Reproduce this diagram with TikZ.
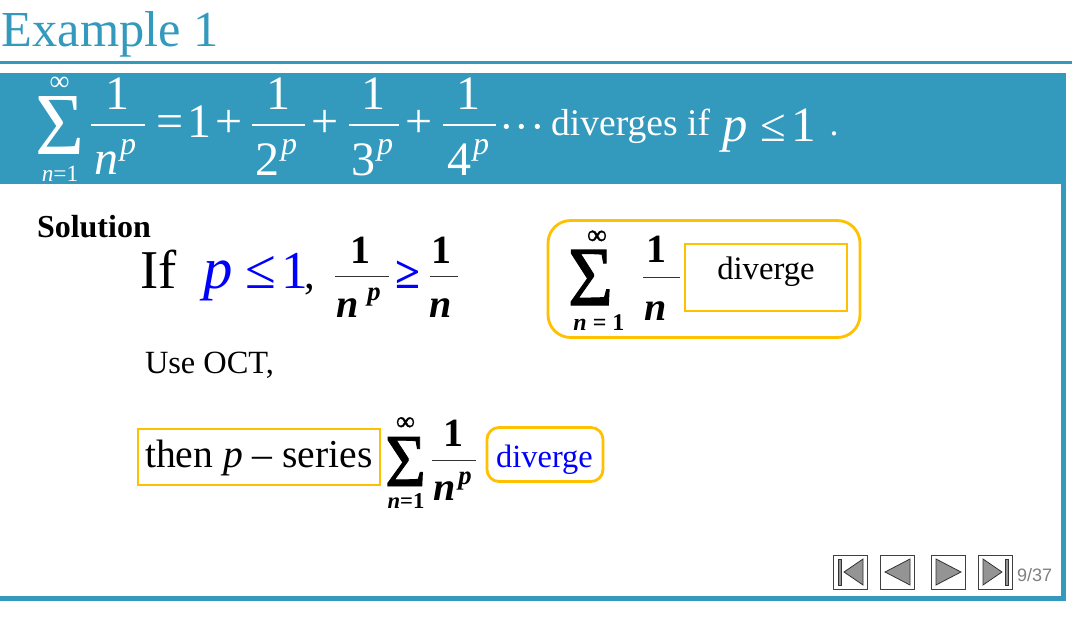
\documentclass[tikz,border=0pt]{standalone}
\usepackage{fontspec}
\usepackage{graphicx}
\setmainfont{Liberation Serif}
\newfontfamily\navfont{Liberation Sans}
\newfontfamily\heavyfont[FakeBold=1.2]{Liberation Serif}
\definecolor{teal1}{HTML}{3399BD}
\definecolor{gold1}{HTML}{FFC000}
\newcommand{\sigmaglyph}[2]{\resizebox{#1}{#2}{Σ}}
\newcommand{\sigmabold}[2]{\resizebox{#1}{#2}{\heavyfont Σ}}
\tikzset{
 x=0.75pt,y=-0.75pt,
 tx/.style={inner sep=0pt,outer sep=0pt,anchor=base},
 fs/.style={font=\fontsize{#1}{#1}\selectfont},
 wh/.style={text=white},
 sg/.style={inner sep=0pt,outer sep=0pt,anchor=center},
 goldbox/.style={draw=gold1,line width=2.1pt},
 navbtn/.style={draw=black!75,line width=0.75pt,fill=white,minimum width=25.5pt,minimum height=25.5pt,inner sep=0pt},
 navtri/.style={draw=black!80,line width=0.6pt,fill=black!42},
 fracw/.style={white,line width=0.8pt},
 fracb/.style={black!80,line width=0.6pt},
}
\begin{document}
\begin{tikzpicture}
\useasboundingbox (0,0) rectangle (1079,621);
\fill[white] (0,0) rectangle (1079,621);
% frame
\fill[teal1] (0,60.5) rectangle (1072,64);
\fill[teal1] (0,72.7) rectangle (1066,183.5);
\fill[teal1] (1061,183) rectangle (1066,601);
\fill[teal1] (0,596) rectangle (1066,601);
\node[tx,anchor=base west,text=teal1,fs=37.8] (title) at (2,46) {Example 1};
% band formula
\node[sg,wh] (s0) at (59.5,125) {\sigmaglyph{36.75pt}{43.5pt}};
\node[tx,wh,fs=21] (inf0) at (59.5,90) {∞};
\node[tx,wh,fs=17.5] (low0) at (60,181) {\textit{n}=1};
\node[tx,wh,fs=36] (a1) at (117,109) {1};
\coordinate (b1l) at (91,125); \coordinate (b1r) at (145,125);
\draw[fracw] (b1l) -- (b1r);
\node[tx,wh,fs=36] (a2) at (106,174) {\textit{n}};
\node[tx,wh,fs=24] (a3) at (128,154) {\textit{p}};
\node[tx,wh,fs=36] (e1) at (170,137) {=};
\node[tx,wh,fs=36] (e2) at (199,137) {1};
\node[tx,wh,fs=36] (e3) at (229,137) {+};
\node[tx,wh,fs=36] (c1) at (278,109) {1};
\coordinate (b2l) at (252,125); \coordinate (b2r) at (305,125);
\draw[fracw] (b2l) -- (b2r);
\node[tx,wh,fs=36] (c2) at (267,175) {2};
\node[tx,wh,fs=24] (c3) at (289,154) {\textit{p}};
\node[tx,wh,fs=36] (e4) at (325,137) {+};
\node[tx,wh,fs=36] (d1) at (373,109) {1};
\coordinate (b3l) at (349,125); \coordinate (b3r) at (399,125);
\draw[fracw] (b3l) -- (b3r);
\node[tx,wh,fs=36] (d2) at (363,175) {3};
\node[tx,wh,fs=24] (d3) at (385,154) {\textit{p}};
\node[tx,wh,fs=36] (e5) at (419,137) {+};
\node[tx,wh,fs=36] (f1) at (468,109) {1};
\coordinate (b4l) at (443,125); \coordinate (b4r) at (496,125);
\draw[fracw] (b4l) -- (b4r);
\node[tx,wh,fs=36] (f2) at (459,175) {4};
\node[tx,wh,fs=24] (f3) at (481,154) {\textit{p}};
\node[tx,wh,fs=33] (dots) at (522,141) {·\kern0.75pt·\kern0.75pt·};
\node[tx,wh,anchor=base west,fs=28.2] (dv) at (551,135) {diverges if};
\node[tx,wh,fs=38] (g1) at (735,141) {\textit{p}};
\node[tx,wh,fs=35] (g2) at (773,141) {≤};
\node[tx,wh,fs=37] (g3) at (804,141) {1};
\node[tx,wh,fs=27] (g4) at (834,135) {.};
% solution
\node[tx,anchor=base west,fs=24] (sol) at (37,237) {\textbf{Solution}};
\node[tx,anchor=base west,fs=41] (if) at (140,288) {If};
\node[tx,anchor=base west,text=blue,fs=44] (pc) at (203,288) {\textit{p}};
\node[tx,text=blue,fs=42] (pc2) at (261,288) {≤};
\node[tx,text=blue,fs=40] (pc3) at (295,288) {1};
\node[tx,fs=32] (comma) at (310,288) {,};
\node[tx,fs=30] (h1) at (360,263) {\textbf{1}};
\coordinate (h1l) at (335,276); \coordinate (h1r) at (389,276);
\draw[fracb] (h1l) -- (h1r);
\node[tx,fs=30] (h2) at (348,317) {\textbf{\textit{n}}};
\node[tx,fs=20] (h3) at (374,300) {\textbf{\textit{p}}};
\node[tx,text=blue,fs=34] (ge) at (408,288) {\textbf{≥}};
\node[tx,fs=30] (h4) at (441,263) {\textbf{1}};
\coordinate (h4l) at (430,276); \coordinate (h4r) at (458,276);
\draw[fracb] (h4l) -- (h4r);
\node[tx,fs=30] (h5) at (441,317) {\textbf{\textit{n}}};
% right rounded box
\node[goldbox,rounded corners=17pt,minimum width=234pt,minimum height=87.75pt,inner sep=0pt] (bigbox) at (704,279) {};
\node[sg] (s1) at (590.5,277.5) {\sigmabold{33.75pt}{41.25pt}};
\node[tx,font=\fontsize{21}{21}\selectfont\heavyfont] (inf1) at (597,244) {∞};
\node[tx,fs=18] (low1) at (599,330) {\textbf{\textit{n} = 1}};
\node[tx,fs=30] (i1) at (656,262) {\textbf{1}};
\coordinate (i1l) at (643,277); \coordinate (i1r) at (680,277);
\draw[fracb] (i1l) -- (i1r);
\node[tx,fs=30] (i2) at (656,320) {\textbf{\textit{n}}};
\node[draw=gold1,line width=1.1pt,minimum width=121.5pt,minimum height=50.25pt,inner sep=0pt] (divbox) at (766,277.5) {};
\node[tx,fs=24.5] (divt) at (766,279) {diverge};
% OCT
\node[tx,anchor=base west,fs=24.3] (oct) at (145,373) {Use OCT,};
% then row
\node[goldbox,minimum width=181.5pt,minimum height=42pt,inner sep=0pt] (thenbox) at (259,457) {};
\node[tx,anchor=base west,fs=29.7] (then) at (145,467) {then \textit{p} – series};
\node[sg] (s2) at (405.5,461.5) {\sigmabold{30.75pt}{36.75pt}};
\node[tx,font=\fontsize{20}{20}\selectfont\heavyfont] (inf2) at (405.5,430) {∞};
\node[tx,fs=17] (low2) at (406,508) {\textbf{\textit{n}=1}};
\node[tx,fs=30] (j1) at (453,446) {\textbf{1}};
\coordinate (j1l) at (432,460); \coordinate (j1r) at (476,460);
\draw[fracb] (j1l) -- (j1r);
\node[tx,fs=30] (j2) at (445,500) {\textbf{\textit{n}}};
\node[tx,fs=20] (j3) at (465,484) {\textbf{\textit{p}}};
\node[goldbox,rounded corners=9pt,minimum width=87pt,minimum height=40.5pt,inner sep=0pt] (dbox) at (545,454.5) {};
\node[tx,text=blue,fs=24.3] (dblue) at (544.5,467) {diverge};
% navigation
\node[navbtn] (n1) at (850,572) {};
\node[navbtn] (n2) at (897,572) {};
\node[navbtn] (n3) at (948,572) {};
\node[navbtn] (n4) at (995,572) {};
\draw[navtri] (838,559) rectangle (841,585);
\draw[navtri] (863,559) -- (844,572) -- (863,585) -- cycle;
\draw[navtri] (910,559) -- (885,572) -- (910,585) -- cycle;
\draw[navtri] (936,559) -- (961,572) -- (936,585) -- cycle;
\draw[navtri] (983,559) -- (1002,572) -- (983,585) -- cycle;
\draw[navtri] (1005,559) rectangle (1008,585);
\node[tx,anchor=base west,text=black!50,font=\navfont\fontsize{13.5}{13.5}\selectfont] (pg) at (1017,581) {9/37};
\end{tikzpicture}
\end{document}
